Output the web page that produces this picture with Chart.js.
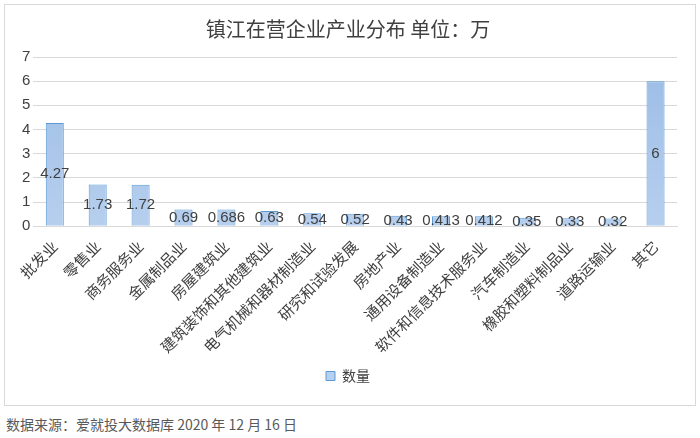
<!DOCTYPE html>
<html>
<head>
<meta charset="utf-8">
<script src="https://cdn.jsdelivr.net/npm/chart.js@4"></script>
<style>
  body { margin: 0; background: #fff; font-family: "Noto Sans CJK SC", sans-serif; }
  #box { position: absolute; left: 4px; top: 4px; width: 690px; height: 400px; border: 1px solid #d9d9d9; }
  #src { position: absolute; left: 6px; top: 414px; font-size: 14px; color: #595959; }
</style>
</head>
<body>
<div id="box"><canvas id="c"></canvas></div>
<div id="src">数据来源：爱就投大数据库 2020 年 12 月 16 日</div>
<script>
// 行业与数量（万）
const categories = ['批发业', '零售业', '商务服务业', '金属制品业', '房屋建筑业', '建筑装饰和其他建筑业',
  '电气机械和器材制造业', '研究和试验发展', '房地产业', '通用设备制造业', '软件和信息技术服务业',
  '汽车制造业', '橡胶和塑料制品业', '道路运输业', '其它'];
const values = [4.27, 1.73, 1.72, 0.69, 0.686, 0.63, 0.54, 0.52, 0.43, 0.413, 0.412, 0.35, 0.33, 0.32, 6];

// 柱内居中显示数值
const labelPlugin = {
  id: 'labels',
  afterDatasetsDraw(chart) {
    const ctx = chart.ctx;
    const meta = chart.getDatasetMeta(0);
    ctx.save();
    ctx.font = '15px "Liberation Sans Narrow", "Liberation Sans", Arial';
    ctx.fillStyle = '#404040';
    ctx.textAlign = 'center';
    ctx.textBaseline = 'middle';
    meta.data.forEach((bar, i) => {
      ctx.fillText(String(values[i]), bar.x, (bar.y + bar.base) / 2);
    });
    ctx.restore();
  }
};

const canvas = document.getElementById('c');
canvas.width = 690; canvas.height = 400;
const g = canvas.getContext('2d');
const grad = g.createLinearGradient(0, 60, 0, 232);
grad.addColorStop(0, '#9dbde6');
grad.addColorStop(1, '#b8d0ef');

new Chart(canvas, {
  type: 'bar',
  data: {
    labels: categories,
    datasets: [{
      label: '数量',
      data: values,
      backgroundColor: grad,
      borderColor: '#5b9bd5',
      borderWidth: 1,
      barPercentage: 0.42,
      categoryPercentage: 1
    }]
  },
  options: {
    responsive: false,
    animation: false,
    layout: { padding: { left: 14, right: 18, top: 0, bottom: 12 } },
    plugins: {
      title: { display: true, text: '镇江在营企业产业分布 单位：万', color: '#404040',
        font: { size: 20, family: '"Noto Sans CJK SC"', weight: 'normal' }, padding: { top: 12, bottom: 16 } },
      legend: { position: 'bottom', labels: { boxWidth: 9, boxHeight: 9, color: '#404040',
        font: { size: 14, family: '"Noto Sans CJK SC"' } } },
      tooltip: { enabled: false }
    },
    scales: {
      y: {
        min: 0, max: 7,
        ticks: { stepSize: 1, color: '#404040', font: { size: 15, family: '"Liberation Sans"' } },
        grid: { color: '#d9d9d9', drawTicks: false },
        border: { display: false }
      },
      x: {
        ticks: { minRotation: 45, maxRotation: 45, color: '#404040', font: { size: 15, family: '"Noto Sans CJK SC"' } },
        grid: { display: false },
        border: { color: '#d9d9d9' }
      }
    }
  },
  plugins: [labelPlugin]
});
</script>
</body>
</html>
